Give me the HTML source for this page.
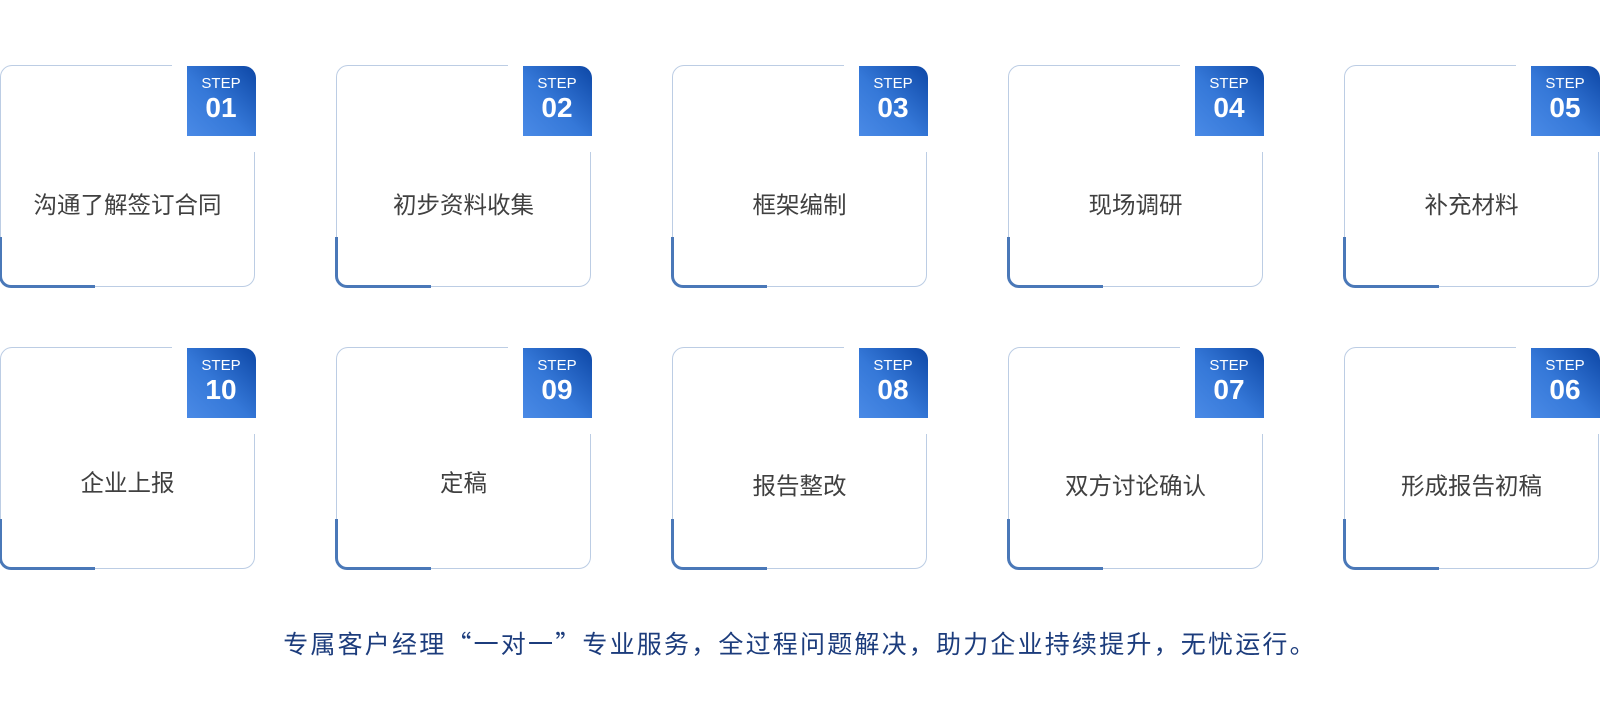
<!DOCTYPE html>
<html><head><meta charset="utf-8"><style>
body{margin:0;width:1600px;height:719px;background:#fff;position:relative;overflow:hidden;font-family:"Liberation Sans","Noto Sans CJK SC",sans-serif}
.c{position:absolute;width:255px;height:222px;box-sizing:border-box;border:1.5px solid #bccde4;border-radius:12px}
.gapt{position:absolute;top:-3px;left:171px;width:86px;height:6px;background:#fff}
.gapr{position:absolute;right:-3px;top:62px;width:6px;height:24px;background:#fff}
.acc{position:absolute;left:-2px;bottom:-2px;width:96px;height:51px;border-left:3px solid #4a78b8;border-bottom:3px solid #4a78b8;border-bottom-left-radius:12px;box-sizing:border-box}
.b{position:absolute;right:-1.5px;top:0;width:69px;height:70px;border-top-right-radius:12px;background:linear-gradient(225deg,#0d47a6 0%,#3578d8 55%,#4a8ae6 100%);color:#fff;text-align:center}
.b .s{font-size:15px;margin-top:10px;line-height:16px}
.b .n{font-size:28px;font-weight:bold;line-height:31px}
.t{position:absolute;left:0;right:0;text-align:center;font-size:23.5px;color:#404040;line-height:30px}
.r1 .t{top:124px}
.r2 .t{top:123px}
.f{position:absolute;top:626px;left:0;width:1600px;text-align:center;font-size:25px;letter-spacing:2.2px;line-height:34px;color:#1c3c7c;font-family:"Noto Sans CJK SC",sans-serif}
</style></head><body>
<div class="c r1" style="left:0;top:65px"><div class="gapt"></div><div class="gapr"></div><div class="acc"></div><div class="b"><div class="s">STEP</div><div class="n">01</div></div><div class="t">沟通了解签订合同</div></div>
<div class="c r1" style="left:336px;top:65px"><div class="gapt"></div><div class="gapr"></div><div class="acc"></div><div class="b"><div class="s">STEP</div><div class="n">02</div></div><div class="t">初步资料收集</div></div>
<div class="c r1" style="left:672px;top:65px"><div class="gapt"></div><div class="gapr"></div><div class="acc"></div><div class="b"><div class="s">STEP</div><div class="n">03</div></div><div class="t">框架编制</div></div>
<div class="c r1" style="left:1008px;top:65px"><div class="gapt"></div><div class="gapr"></div><div class="acc"></div><div class="b"><div class="s">STEP</div><div class="n">04</div></div><div class="t">现场调研</div></div>
<div class="c r1" style="left:1344px;top:65px"><div class="gapt"></div><div class="gapr"></div><div class="acc"></div><div class="b"><div class="s">STEP</div><div class="n">05</div></div><div class="t">补充材料</div></div>
<div class="c r2" style="left:0;top:347px"><div class="gapt"></div><div class="gapr"></div><div class="acc"></div><div class="b"><div class="s">STEP</div><div class="n">10</div></div><div class="t" style="top:120px">企业上报</div></div>
<div class="c r2" style="left:336px;top:347px"><div class="gapt"></div><div class="gapr"></div><div class="acc"></div><div class="b"><div class="s">STEP</div><div class="n">09</div></div><div class="t" style="top:120px">定稿</div></div>
<div class="c r2" style="left:672px;top:347px"><div class="gapt"></div><div class="gapr"></div><div class="acc"></div><div class="b"><div class="s">STEP</div><div class="n">08</div></div><div class="t">报告整改</div></div>
<div class="c r2" style="left:1008px;top:347px"><div class="gapt"></div><div class="gapr"></div><div class="acc"></div><div class="b"><div class="s">STEP</div><div class="n">07</div></div><div class="t">双方讨论确认</div></div>
<div class="c r2" style="left:1344px;top:347px"><div class="gapt"></div><div class="gapr"></div><div class="acc"></div><div class="b"><div class="s">STEP</div><div class="n">06</div></div><div class="t">形成报告初稿</div></div>
<div class="f">专属客户经理“一对一”专业服务，全过程问题解决，助力企业持续提升，无忧运行。</div>
</body></html>
